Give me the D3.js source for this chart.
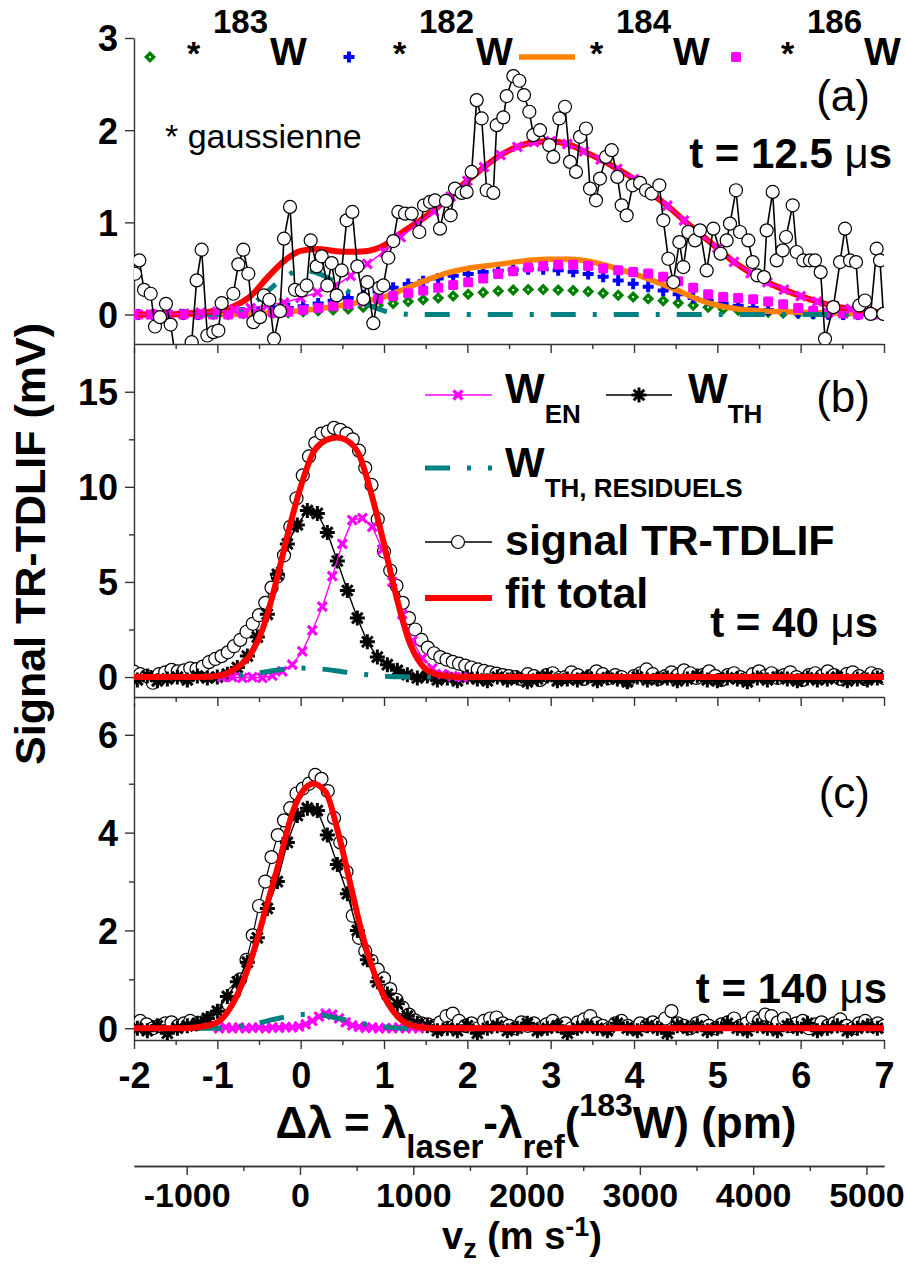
<!DOCTYPE html>
<html><head><meta charset="utf-8">
<script src="https://cdn.jsdelivr.net/npm/d3@7"></script>
<style>
body{margin:0;background:#fff}
text{font-family:"Liberation Sans",Arial,sans-serif;fill:#000}
</style></head>
<body><svg id="c" width="905" height="1264"></svg>
<script>
// ---------------- DATA ----------------
const X_TICKS = [-2,-1,0,1,2,3,4,5,6,7];
const X_MINOR = [-1.5,-0.5,0.5,1.5,2.5,3.5,4.5,5.5,6.5];
const V_TICKS = [-1000,0,1000,2000,3000,4000,5000];
const V_MINOR = [-500,500,1500,2500,3500,4500];
const YA_TICKS = [0,1,2,3];
const YB_TICKS = [0,5,10,15], YB_MINOR = [2.5,7.5,12.5];
const YC_TICKS = [0,2,4,6],  YC_MINOR = [1,3,5];

// Panel (a) t = 12.5 us : measured signal
const sigAx = [-1.988,-1.936,-1.88,-1.80,-1.748,-1.688,-1.616,-1.56,-1.508,-1.42,-1.308,-1.248,-1.188,-1.12,-1.048,-0.988,-0.948,-0.808,-0.748,-0.688,-0.628,-0.568,-0.488,-0.44,-0.376,-0.32,-0.248,-0.20,-0.128,-0.068,0.012,0.072,0.12,0.192,0.252,0.32,0.372,0.432,0.492,0.552,0.62,0.68,0.752,0.80,0.872,0.944,0.992,1.052,1.112,1.172,1.252,1.332,1.424,1.48,1.552,1.612,1.672,1.744,1.80,1.852,1.932,1.992,2.052,2.112,2.172,2.232,2.312,2.352,2.432,2.472,2.552,2.624,2.68,2.744,2.792,2.872,2.984,3.032,3.104,3.172,3.232,3.304,3.352,3.424,3.472,3.544,3.592,3.664,3.732,3.80,3.852,3.912,3.984,4.072,4.144,4.212,4.304,4.352,4.412,4.472,4.544,4.592,4.652,4.732,4.792,4.872,4.952,5.04,5.112,5.152,5.224,5.272,5.372,5.424,5.48,5.56,5.592,5.664,5.712,5.784,5.824,5.904,5.952,6.032,6.112,6.172,6.24,6.292,6.392,6.472,6.532,6.592,6.664,6.704,6.772,6.84,6.912,6.952,6.992];
const sigAy = [0.442,0.587,0.268,0.225,-0.13,-0.029,0.116,-0.109,-0.43,-0.45,-0.30,0.37,0.703,-0.228,-0.192,-0.174,0.123,0.225,0.544,0.703,0.442,-0.083,-0.029,0.207,0.16,-0.264,0.036,0.823,1.167,0.268,0.261,0.315,0.804,0.522,0.631,0.315,0.558,0.207,0.478,1.022,1.113,0.522,0.17,0.351,-0.094,0.29,0.315,0.616,0.797,1.113,1.094,1.094,0.895,1.185,1.221,1.239,0.931,1.232,1.076,1.366,1.319,1.33,1.547,2.326,2.127,1.348,1.319,2.054,2.138,2.37,2.587,2.536,2.381,2.2,1.946,2.0,1.837,1.71,2.127,2.254,1.656,1.547,1.928,2.018,1.366,1.239,1.475,1.71,1.783,1.493,1.185,1.076,1.402,1.428,1.348,1.312,1.402,1.022,0.605,0.352,0.786,0.515,0.895,0.804,0.913,0.478,0.931,0.66,0.804,0.986,1.348,0.895,0.804,0.569,0.424,0.406,0.913,1.33,0.587,0.696,0.841,1.185,0.678,0.587,0.587,0.587,0.46,-0.264,0.08,0.569,0.931,0.587,0.569,0.098,0.152,0.007,0.714,0.587,0.007];
// Panel (a) W_EN (x from -2, step 0.2)
const wenA = [0,0,0,0.01,0.02,0.03,0.05,0.07,0.1,0.13,0.18,0.24,0.3,0.42,0.55,0.68,0.84,0.98,1.12,1.28,1.45,1.6,1.73,1.82,1.87,1.88,1.85,1.77,1.68,1.58,1.47,1.32,1.18,1.02,0.87,0.72,0.57,0.45,0.35,0.27,0.2,0.14,0.09,0.06,0.04,0.02];
// Panel (a) fit total (x from -2, step 0.2)
const fitA = [0,0,0,0.01,0.02,0.04,0.09,0.2,0.4,0.58,0.69,0.71,0.69,0.68,0.69,0.75,0.88,1.0,1.13,1.29,1.45,1.6,1.73,1.82,1.87,1.88,1.85,1.77,1.68,1.58,1.47,1.32,1.18,1.02,0.87,0.72,0.57,0.45,0.35,0.27,0.2,0.14,0.09,0.06,0.04,0.02];
// Panel (a) W_TH residuels
const resAx = [-2,-1.0,-0.8,-0.6,-0.4,-0.2,0,0.2,0.4,0.6,0.8,1.0,1.2,1.4,7];
const resAy = [0,0,0.03,0.1,0.25,0.4,0.48,0.45,0.36,0.23,0.11,0.04,0.01,0,0];
// Panel (a) isotope gaussians (x from -1.95, step 0.18)
const g183 = [0,0,0,0,0,0,0,0.01,0.01,0.02,0.02,0.03,0.04,0.05,0.06,0.08,0.1,0.12,0.14,0.16,0.18,0.2,0.22,0.24,0.255,0.265,0.27,0.27,0.265,0.26,0.25,0.23,0.21,0.19,0.17,0.15,0.125,0.1,0.08,0.06,0.045,0.035,0.025,0.015,0.01,0.005,0,0,0,0];
const g182 = [0,0,0,0,0,0.01,0.01,0.02,0.03,0.05,0.07,0.09,0.12,0.15,0.18,0.21,0.25,0.29,0.33,0.36,0.39,0.42,0.44,0.46,0.475,0.485,0.49,0.49,0.48,0.465,0.44,0.41,0.37,0.335,0.3,0.26,0.22,0.18,0.15,0.12,0.095,0.07,0.05,0.035,0.02,0.01,0.005,0,0,0];
const g186 = [0,0,0,0,0,0,0,0.01,0.01,0.02,0.03,0.05,0.07,0.09,0.11,0.14,0.17,0.2,0.23,0.26,0.29,0.32,0.35,0.39,0.44,0.47,0.51,0.525,0.54,0.54,0.525,0.5,0.48,0.46,0.445,0.41,0.36,0.29,0.22,0.19,0.18,0.165,0.14,0.11,0.07,0.04,0.02,0.01,0,0];
const g184x = [-2,-1,-0.5,0,0.5,0.8,1.0,1.25,1.5,1.75,2.0,2.25,2.5,2.75,3.0,3.25,3.5,3.75,4.0,4.25,4.5,4.75,5.0,5.25,5.5,6.0,6.5,7.0];
const g184y = [0,0,0.01,0.04,0.1,0.15,0.19,0.28,0.37,0.45,0.5,0.53,0.56,0.59,0.6,0.6,0.57,0.51,0.44,0.36,0.27,0.17,0.1,0.06,0.04,0.025,0.01,0];

// Panel (b) t = 40 us : signal (x from -2, step 0.075)
const sigB = [0.28,0.15,0.05,-0.30,0.15,0.25,0.38,0.30,0.35,0.46,
 0.42,0.55,0.78,0.95,1.1,1.3,1.62,1.95,2.38,2.8,
 3.25,3.9,4.7,5.3,6.4,7.9,9.4,10.6,11.6,12.3,
 12.8,12.9,13.1,13.0,12.8,12.5,11.9,11.0,10.1,8.3,
 6.6,5.6,4.8,3.9,3.1,2.5,1.95,1.55,1.25,1.05,
 0.92,0.8,0.7,0.6,0.5,0.4,0.32,0.25,0.18,0.1,
 0.05,
 0.0,-0.1,0.15,0.05,-0.15,0.1,0.2,-0.05,0.0,0.25,
 0.1,-0.1,0.05,0.3,0.15,-0.05,0.1,0.0,-0.2,0.05,
 0.2,0.4,0.15,-0.1,0.05,0.25,0.1,0.35,0.2,-0.05,
 0.1,0.3,0.05,-0.15,0.1,0.2,0.0,-0.1,0.15,0.3,
 0.05,0.2,-0.05,0.1,0.25,0.0,-0.15,0.1,0.2,0.05,
 0.3,0.1,-0.1,0.15,0.25,0.05,-0.1,0.2,0.1,-0.05];
// Panel (b) W_TH (x from -1.96, step 0.12)
const wthB = [-0.15,0.05,-0.2,-0.1,0.0,-0.15,0.05,-0.05,0.0,0.15,
 0.5,1.1,2.1,3.3,5.4,7.0,8.0,8.75,8.6,7.6,
 6.1,4.55,3.1,1.85,1.05,0.65,0.35,0.12,-0.05,0.05,
 -0.15,-0.05,-0.2,0.0,
 -0.1,-0.2,0.0,-0.15,-0.05,-0.25,-0.1,0.05,-0.2,-0.1,
 -0.15,0.0,-0.2,-0.05,-0.1,-0.25,0.0,-0.15,-0.1,-0.05,
 -0.2,-0.1,0.05,-0.15,-0.2,-0.05,-0.1,-0.25,-0.05,-0.15,
 0.0,-0.1,-0.2,-0.05,-0.15,-0.1,0.0,-0.2,-0.1,-0.15,-0.05];
// Panel (b) W_EN (x from -0.94, step 0.12)
const wenB = [0,0,-0.05,0,-0.05,0.08,0.3,0.65,1.35,2.45,3.7,5.3,7.0,8.25,8.35,7.9,6.7,5.0,3.3,1.9,1.0,0.45,0.15,0.05,0];
const resBx = [-2,-1.25,-1.0,-0.75,-0.5,-0.25,0,0.25,0.5,0.75,1.0,1.25,1.5,7];
const resBy = [0,0,0.03,0.1,0.22,0.38,0.47,0.42,0.28,0.14,0.05,0.01,0,0];
const fitBx = [-2,-1.2,-1.0,-0.8,-0.6,-0.45,-0.3,-0.15,0,0.15,0.3,0.43,0.55,0.7,0.85,1.0,1.15,1.3,1.45,1.6,1.8,2.0,7];
const fitBy = [0,0,0.05,0.4,1.2,2.6,4.9,7.6,10.0,11.8,12.45,12.6,12.45,11.7,9.6,7.0,4.2,1.9,0.65,0.18,0.03,0,0];

// Panel (c) t = 140 us : signal (x from -2, step 0.075)
const sigC = [0.05,0.15,0.08,0.0,0.05,0.1,0.12,0.05,0.1,0.15,
 0.08,0.12,0.18,0.25,0.35,0.5,0.72,1.0,1.4,1.9,
 2.5,3.0,3.5,3.95,4.25,4.5,4.8,4.9,5.0,5.18,
 5.1,4.85,4.3,3.8,3.2,2.3,1.85,1.58,1.38,1.2,
 1.02,0.8,0.58,0.42,0.28,0.16,0.1,0.08,0.05,0.12,
 0.25,0.3,0.15,0.05,0.1,0.0,0.15,0.2,0.22,0.1,
 0.05,
 0.0,0.12,0.05,0.1,0.0,0.08,0.15,0.05,0.1,0.0,
 0.12,0.18,0.25,0.1,0.05,0.0,0.1,0.15,0.05,0.0,
 0.1,0.05,0.12,0.08,0.2,0.35,0.1,0.05,0.0,0.1,
 0.15,0.05,0.0,0.08,0.12,0.2,0.05,0.1,0.22,0.15,
 0.28,0.25,0.12,0.2,0.05,0.1,0.15,0.0,0.08,0.12,
 0.05,0.1,0.18,0.05,0.0,0.1,0.15,0.05,0.1,0.05];
const wthC = [0.0,-0.05,0.05,-0.1,0.0,0.05,0.1,0.2,0.35,0.65,
 0.95,1.35,1.85,2.45,3.0,3.8,4.35,4.5,4.45,3.95,
 3.35,2.75,2.0,1.4,0.95,0.7,0.5,0.25,0.1,0.05,
 -0.05,
 0.0,-0.05,0.05,-0.1,0.0,0.05,-0.05,0.0,0.1,-0.05,
 0.0,0.05,-0.1,0.0,0.05,0.0,-0.05,0.1,0.0,-0.05,
 0.05,0.0,-0.1,0.05,0.0,0.05,-0.05,0.0,0.1,0.0,
 -0.05,0.05,0.0,-0.05,0.05,0.0,0.1,-0.05,0.0,0.05,
 -0.05,0.0,0.05,0.0];
// Panel (c) W_EN (x from -0.98, step 0.08)
const wenC = [0,0.02,0,0.02,0,0.01,0.02,0,0.02,0.01,0.03,0.02,0.04,0.08,0.15,0.24,0.3,0.28,0.2,0.12,0.06,0.03,0.01,0.02,0,0.01,0,0.02,0,0.01,0];
const resCx = [-2,-1.0,-0.75,-0.5,-0.25,0,0.2,0.4,0.6,0.8,1.0,1.2,7];
const resCy = [0,0,0.04,0.11,0.21,0.28,0.28,0.22,0.15,0.08,0.03,0,0];
const fitCx = [-2,-1.4,-1.2,-1.0,-0.8,-0.6,-0.4,-0.25,-0.1,0.05,0.15,0.3,0.45,0.6,0.75,0.9,1.05,1.2,1.4,1.6,7];
const fitCy = [0,0,0.03,0.12,0.55,1.38,2.55,3.45,4.4,4.9,5.0,4.83,4.0,2.92,1.85,1.05,0.5,0.18,0.03,0,0];

// ---------------- HELPERS ----------------
const grid = (x0, step, ys) => ys.map((v,i) => [x0 + i*step, v]);
const zip = (xs, ys) => xs.map((v,i) => [v, ys[i]]).filter(d => d[1] !== undefined);
const fmt = d => (d < 0 ? "-" + Math.abs(d) : String(d));

const svg = d3.select("#c");
const X0 = 134, X1 = 884;
const x = d3.scaleLinear().domain([-2,7]).range([X0,X1]);
const AX = "#333";
const C = {red:"#ff0000", mag:"#ff00ff", teal:"#008080", orange:"#ff8000", green:"#008000", blue:"#0000ff"};
const DASHDOT = "25,17,4,17";

const XMARK = "M-4.5,-4.5L4.5,4.5M-4.5,4.5L4.5,-4.5";
const AST = "M-7.5,0H7.5M0,-7.5V7.5M-5.3,-5.3L5.3,5.3M-5.3,5.3L5.3,-5.3";
const DIAM = "M0,-6L6,0L0,6L-6,0Z";
const PLUS = "M-2,-5.5H2V-2H5.5V2H2V5.5H-2V2H-5.5V-2H-2Z";
const FONT = "Liberation Sans, Arial, sans-serif";

function panel(id, y, major, minor, labelX) {
  const g = svg.append("g");
  const [yb, yt] = y.range();
  svg.append("defs").append("clipPath").attr("id","clip"+id)
    .append("rect").attr("x",X0).attr("y",yt).attr("width",X1-X0).attr("height",yb-yt);
  const ya = g.append("g").attr("transform",`translate(${X0},0)`)
    .call(d3.axisLeft(y).tickValues(major).tickSize(9).tickSizeOuter(0).tickFormat(fmt));
  if (minor.length) g.append("g").attr("transform",`translate(${X0},0)`)
    .call(d3.axisLeft(y).tickValues(minor).tickSize(5).tickFormat("").tickSizeOuter(0))
    .select(".domain").remove();
  ya.selectAll(".tick text").attr("x",-16).attr("dy","0.36em")
    .style("font-size","36px").style("font-weight","bold").style("font-family",FONT);
  const xa = g.append("g").attr("transform",`translate(0,${yb})`)
    .call(d3.axisBottom(x).tickValues(X_TICKS).tickSize(9).tickSizeOuter(0)
      .tickFormat(labelX ? fmt : ""));
  g.append("g").attr("transform",`translate(0,${yb})`)
    .call(d3.axisBottom(x).tickValues(X_MINOR).tickSize(5).tickFormat("").tickSizeOuter(0))
    .select(".domain").remove();
  if (labelX) xa.selectAll(".tick text").attr("y",48).attr("dy",null)
    .style("font-size","36px").style("font-weight","bold").style("font-family",FONT);
  g.selectAll(".domain, .tick line").attr("stroke",AX).attr("stroke-width",1.4);
  return svg.append("g").attr("clip-path",`url(#clip${id})`);
}

function curve(g, y, data, color, width, dash, smooth) {
  g.append("path").datum(data)
    .attr("d", d3.line().x(d=>x(d[0])).y(d=>y(d[1])).curve(smooth ? d3.curveMonotoneX : d3.curveLinear))
    .attr("fill","none").attr("stroke",color).attr("stroke-width",width)
    .attr("stroke-dasharray", dash || null).attr("stroke-linejoin","round");
}
function marks(g, y, data, pathD, opts) {
  g.selectAll(null).data(data).join("path")
    .attr("transform", d => `translate(${x(d[0])},${y(d[1])})`)
    .attr("d", pathD)
    .attr("fill", opts.fill || "none").attr("stroke", opts.stroke || "none")
    .attr("stroke-width", opts.sw || 0);
}
function circles(g, y, data) {
  g.selectAll(null).data(data).join("circle")
    .attr("cx", d=>x(d[0])).attr("cy", d=>y(d[1])).attr("r",6.5)
    .attr("fill","#fff").attr("stroke","#000").attr("stroke-width",1.2);
}
function squares(g, y, data, color) {
  g.selectAll(null).data(data).join("rect")
    .attr("x", d=>x(d[0])-5).attr("y", d=>y(d[1])-5).attr("width",10).attr("height",10)
    .attr("rx",1.5).attr("fill",color);
}

// ---------------- PANEL A ----------------
const yA = d3.scaleLinear().domain([-0.32,3]).range([344,38]);
const pA = panel("a", yA, YA_TICKS, [], false);
{
  const d183 = grid(-1.95,0.18,g183), d182 = grid(-1.95,0.18,g182), d186 = grid(-1.95,0.18,g186);
  marks(pA, yA, d183, DIAM, {fill:C.green});
  pA.selectAll(null).data(d183).join("circle").attr("cx",d=>x(d[0])).attr("cy",d=>yA(d[1])).attr("r",1.1).attr("fill","#fff");
  marks(pA, yA, d182, PLUS, {fill:C.blue});
  curve(pA, yA, zip(g184x,g184y), C.orange, 5.5, null, true);
  squares(pA, yA, d186, C.mag);
  curve(pA, yA, zip(resAx,resAy), C.teal, 5, DASHDOT, true);
  curve(pA, yA, grid(-2,0.2,fitA), C.red, 6, null, true);
  const wen = grid(-2,0.2,wenA);
  curve(pA, yA, wen, C.mag, 1.5, null, false);
  marks(pA, yA, wen, XMARK, {stroke:C.mag, sw:3.2});
  const sig = zip(sigAx, sigAy);
  curve(pA, yA, sig, "#000", 1.6, null, false);
  circles(pA, yA, sig);
}

// ---------------- PANEL B ----------------
const yB = d3.scaleLinear().domain([-1.05,17.3]).range([697,348]);
const pB = panel("b", yB, YB_TICKS, YB_MINOR, false);
{
  const sig = grid(-2,0.075,sigB);
  curve(pB, yB, sig, "#000", 1.2, null, false);
  circles(pB, yB, sig);
  const wth = grid(-1.96,0.12,wthB);
  curve(pB, yB, wth, "#000", 1.4, null, false);
  marks(pB, yB, wth, AST, {stroke:"#000", sw:3});
  const wen = grid(-0.94,0.12,wenB);
  curve(pB, yB, wen, C.mag, 1.4, null, false);
  marks(pB, yB, wen, XMARK, {stroke:C.mag, sw:3.2});
  curve(pB, yB, zip(resBx,resBy), C.teal, 5, DASHDOT, true);
  curve(pB, yB, zip(fitBx,fitBy), C.red, 6, null, true);
}

// ---------------- PANEL C ----------------
const yC = d3.scaleLinear().domain([-0.24,6.65]).range([1040,703]);
const pC = panel("c", yC, YC_TICKS, YC_MINOR, true);
{
  const sig = grid(-2,0.075,sigC);
  curve(pC, yC, sig, "#000", 1.2, null, false);
  circles(pC, yC, sig);
  const wth = grid(-1.96,0.12,wthC);
  curve(pC, yC, wth, "#000", 1.4, null, false);
  marks(pC, yC, wth, AST, {stroke:"#000", sw:3});
  const wen = grid(-0.98,0.08,wenC);
  curve(pC, yC, wen, C.mag, 1.4, null, false);
  marks(pC, yC, wen, XMARK, {stroke:C.mag, sw:3.2});
  curve(pC, yC, zip(resCx,resCy), C.teal, 5, DASHDOT, true);
  curve(pC, yC, zip(fitCx,fitCy), C.red, 6, null, true);
}

// ---------------- VELOCITY AXIS ----------------
const v = d3.scaleLinear().domain([-1465,5155]).range([X0,X1]);
{
  const g = svg.append("g").attr("transform","translate(0,1166)");
  g.call(d3.axisBottom(v).tickValues(V_TICKS).tickSize(9).tickSizeOuter(0).tickFormat(fmt));
  svg.append("g").attr("transform","translate(0,1166)")
    .call(d3.axisBottom(v).tickValues(V_MINOR).tickSize(5).tickFormat("").tickSizeOuter(0))
    .selectAll(".domain, .tick line").attr("stroke",AX).attr("stroke-width",1.4);
  g.selectAll(".domain, .tick line").attr("stroke",AX).attr("stroke-width",1.4);
  g.selectAll(".tick text").attr("y",41).attr("dy",null)
    .style("font-size","34px").style("font-weight","bold").style("font-family",FONT);
}

// ---------------- TEXTS ----------------
function T(xp, yp, size, weight, anchor, html) {
  return svg.append("text").attr("x",xp).attr("y",yp)
    .style("font-size",size+"px").style("font-weight",weight)
    .attr("text-anchor",anchor).html(html);
}
svg.append("text").attr("transform","translate(45,544) rotate(-90)")
  .attr("text-anchor","middle").style("font-size","43px").style("font-weight","bold")
  .text("Signal TR-TDLIF (mV)");
T(536,1138,44,"bold","middle",
 'Δλ = λ<tspan font-size="33" dy="20">laser</tspan><tspan dy="-20">-λ</tspan><tspan font-size="33" dy="20">ref</tspan><tspan dy="-20">(</tspan><tspan font-size="32" dy="-22">183</tspan><tspan dy="22">W) (pm)</tspan>');
T(522,1249,38,"bold","middle",
 'v<tspan font-size="27" dy="9">z</tspan><tspan dy="-9"> (m s</tspan><tspan font-size="27" dy="-13">-1</tspan><tspan dy="13">)</tspan>');

T(870,111,44,"normal","end","(a)");
T(892,168,42,"bold","end",'t = 12.5 <tspan font-weight="normal">μ</tspan>s');
T(165,148,34,"normal","start","* gaussienne");
T(870,412,44,"normal","end","(b)");
T(878,637,42,"bold","end",'t = 40 <tspan font-weight="normal">μ</tspan>s');
T(870,808,44,"normal","end","(c)");
T(887,1003,42,"bold","end",'t = 140 <tspan font-weight="normal">μ</tspan>s');

// ---------------- TOP LEGEND (panel a) ----------------
{
  const ly = 57;
  const g = svg.append("g");
  g.append("path").attr("transform",`translate(150,${ly})`).attr("d",DIAM).attr("fill",C.green);
  g.append("circle").attr("cx",150).attr("cy",ly).attr("r",1.1).attr("fill","#fff");
  g.append("path").attr("transform",`translate(349,${ly})`).attr("d",PLUS).attr("fill",C.blue);
  g.append("line").attr("x1",519).attr("x2",575).attr("y1",ly).attr("y2",ly).attr("stroke",C.orange).attr("stroke-width",5.5);
  g.append("rect").attr("x",736-5).attr("y",ly-5).attr("width",10).attr("height",10).attr("rx",1.5).attr("fill",C.mag);
  const items = [["183",187],["182",393],["184",590],["186",781]];
  items.forEach(([iso,sx]) => {
    T(sx,65,34,"bold","start","*");
    T(sx+26,33,33,"bold","start",iso);
    T(sx+83,65,39,"bold","start","W");
  });
}

// ---------------- LEGEND (panel b) ----------------
{
  const g = svg.append("g");
  const lx1 = 425, lx2 = 492, lm = 458;
  g.append("line").attr("x1",lx1).attr("x2",lx2).attr("y1",395).attr("y2",395).attr("stroke",C.mag).attr("stroke-width",1.4);
  g.append("path").attr("transform","translate(458,395)").attr("d",XMARK).attr("stroke",C.mag).attr("stroke-width",3.2);
  T(505,403,42,"bold","start",'W<tspan font-size="26" dy="20">EN</tspan>');
  g.append("line").attr("x1",606).attr("x2",672).attr("y1",395).attr("y2",395).attr("stroke","#000").attr("stroke-width",1.4);
  g.append("path").attr("transform","translate(639,395)").attr("d",AST).attr("stroke","#000").attr("stroke-width",3);
  T(688,403,42,"bold","start",'W<tspan font-size="26" dy="20">TH</tspan>');
  g.append("line").attr("x1",lx1).attr("x2",lx2).attr("y1",468).attr("y2",468).attr("stroke",C.teal).attr("stroke-width",5).attr("stroke-dasharray",DASHDOT);
  T(505,477,42,"bold","start",'W<tspan font-size="26" dy="20">TH, RESIDUELS</tspan>');
  g.append("line").attr("x1",lx1).attr("x2",lx2).attr("y1",542).attr("y2",542).attr("stroke","#000").attr("stroke-width",1.4);
  g.append("circle").attr("cx",lm).attr("cy",542).attr("r",6.5).attr("fill","#fff").attr("stroke","#000").attr("stroke-width",1.2);
  T(505,555,43,"bold","start","signal TR-TDLIF");
  g.append("line").attr("x1",lx1).attr("x2",lx2).attr("y1",598).attr("y2",598).attr("stroke",C.red).attr("stroke-width",6);
  T(505,608,43,"bold","start","fit total");
}
</script></body></html>
